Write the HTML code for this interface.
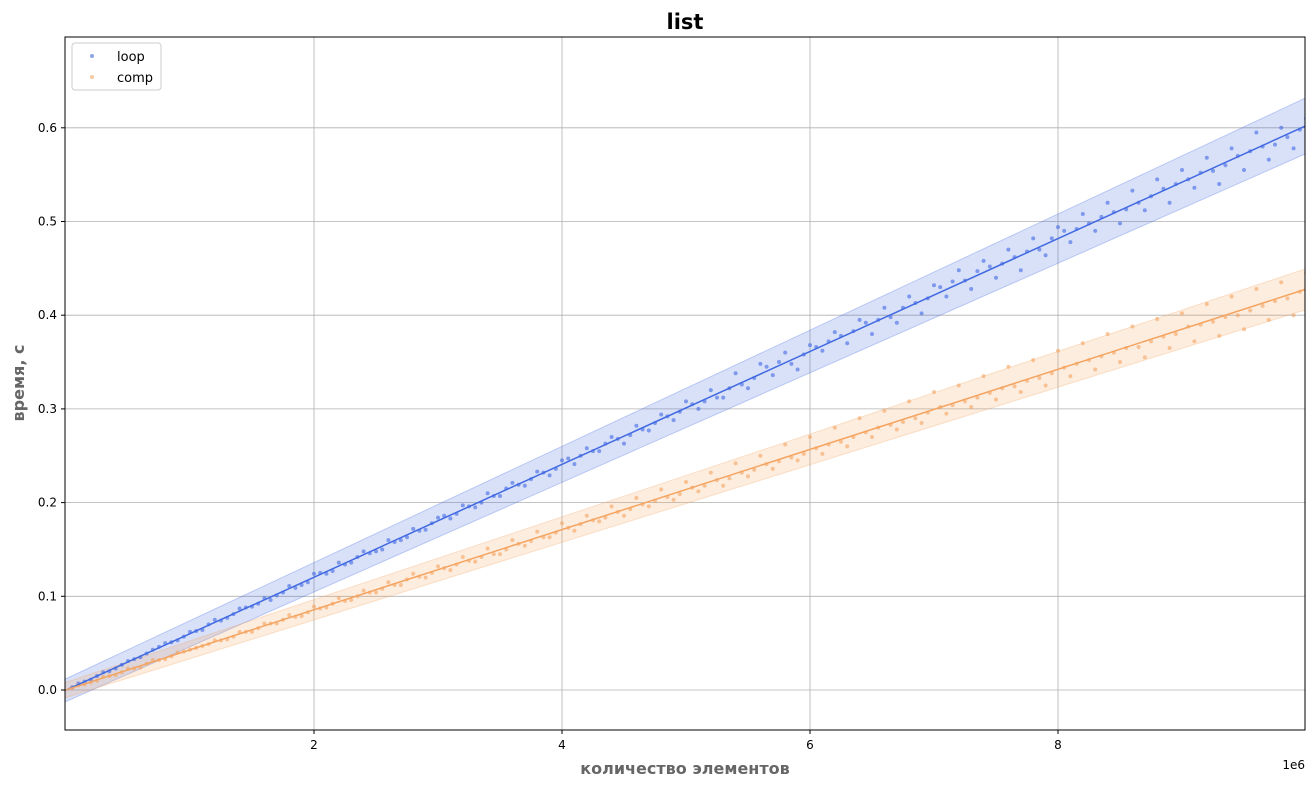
<!DOCTYPE html>
<html><head><meta charset="utf-8"><style>
body{margin:0;background:#fff;font-family:"Liberation Sans","DejaVu Sans",sans-serif;}
svg text{font-family:"DejaVu Sans","Liberation Sans",sans-serif;}
</style></head><body>
<svg id="chart" width="1315" height="787" xmlns="http://www.w3.org/2000/svg">
<defs><clipPath id="plotclip"><rect x="65" y="37" width="1240" height="693"/></clipPath></defs>
<rect width="1315" height="787" fill="#fff"/>
<g id="grid"></g><g id="plotarea" clip-path="url(#plotclip)"><g id="bands"></g><g id="points"></g><g id="lines"></g></g><g id="axes"></g>
<text x="685" y="29" text-anchor="middle" font-size="21" font-weight="bold">list</text>
<text x="685" y="774" text-anchor="middle" font-size="16" font-weight="bold" fill="#666">количество элементов</text>
<text transform="translate(24,383) rotate(-90)" text-anchor="middle" font-size="16" font-weight="bold" fill="#666">время, с</text>
<text x="1305" y="769" text-anchor="end" font-size="12">1e6</text>
<g>
<rect x="72" y="43" width="89" height="47" rx="3" fill="#fff" fill-opacity="0.8" stroke="#ccc"/>
<circle cx="92" cy="56" r="2" fill="#4169e1" opacity="0.6"/>
<text x="117" y="61" font-size="13">loop</text>
<circle cx="92" cy="77" r="2" fill="#f4a460" opacity="0.6"/>
<text x="117" y="82" font-size="13">comp</text>
</g>
</svg>
<script>
const xTicks=[2,4,6,8];
const yTicks=[0.0,0.1,0.2,0.3,0.4,0.5,0.6];
const yTickLabels=["0.0","0.1","0.2","0.3","0.4","0.5","0.6"];
const loopValues=[0.003,0.009,0.015,0.020,0.027,0.033,0.039,0.046,0.051,0.057,
0.063,0.070,0.074,0.081,0.088,0.092,0.096,0.104,0.109,0.115,
0.125,0.127,0.134,0.142,0.146,0.150,0.158,0.163,0.170,0.178,
0.186,0.188,0.196,0.200,0.207,0.215,0.219,0.225,0.232,0.236,
0.247,0.250,0.255,0.263,0.268,0.272,0.278,0.285,0.292,0.297,
0.305,0.308,0.312,0.322,0.326,0.333,0.345,0.350,0.348,0.358,
0.366,0.372,0.378,0.383,0.392,0.395,0.398,0.408,0.413,0.418,
0.430,0.436,0.437,0.447,0.452,0.455,0.462,0.468,0.470,0.482,
0.490,0.492,0.498,0.505,0.510,0.513,0.520,0.527,0.535,0.540,
0.545,0.552,0.554,0.560,0.570,0.575,0.580,0.582,0.590,0.598];
const loopValues2=[0.007,0.011,0.019,0.023,0.031,0.035,0.043,0.050,0.053,0.062,
0.064,0.075,0.077,0.087,0.089,0.098,0.101,0.111,0.112,0.124,
0.124,0.136,0.136,0.148,0.148,0.160,0.160,0.172,0.171,0.184,
0.183,0.197,0.195,0.210,0.207,0.221,0.218,0.233,0.229,0.245,
0.241,0.258,0.255,0.270,0.263,0.282,0.277,0.294,0.288,0.308,
0.300,0.320,0.312,0.338,0.322,0.348,0.336,0.360,0.342,0.368,
0.362,0.382,0.370,0.395,0.380,0.408,0.392,0.420,0.402,0.432,
0.420,0.448,0.428,0.458,0.440,0.470,0.448,0.482,0.464,0.494,
0.478,0.508,0.490,0.520,0.498,0.533,0.512,0.545,0.520,0.555,
0.536,0.568,0.540,0.578,0.555,0.595,0.566,0.600,0.578,0.610];
const compValues=[0.002,0.006,0.010,0.015,0.019,0.023,0.028,0.032,0.036,0.041,
0.045,0.049,0.053,0.057,0.062,0.066,0.071,0.075,0.078,0.083,
0.087,0.092,0.095,0.100,0.104,0.108,0.112,0.118,0.121,0.125,
0.130,0.134,0.138,0.142,0.145,0.150,0.156,0.159,0.163,0.168,
0.173,0.177,0.181,0.184,0.190,0.193,0.198,0.202,0.206,0.209,
0.216,0.218,0.224,0.226,0.232,0.235,0.241,0.244,0.248,0.252,
0.258,0.262,0.265,0.270,0.275,0.280,0.283,0.286,0.290,0.296,
0.302,0.304,0.308,0.312,0.317,0.322,0.324,0.330,0.333,0.338,
0.344,0.348,0.352,0.356,0.360,0.365,0.366,0.372,0.377,0.380,
0.388,0.390,0.393,0.398,0.400,0.405,0.410,0.415,0.418,0.425];
const compValues2=[0.005,0.008,0.014,0.016,0.023,0.024,0.032,0.033,0.040,0.043,
0.047,0.053,0.054,0.062,0.062,0.071,0.071,0.080,0.079,0.089,
0.088,0.098,0.096,0.106,0.104,0.115,0.112,0.124,0.120,0.132,
0.128,0.142,0.137,0.151,0.145,0.160,0.154,0.169,0.163,0.178,
0.170,0.186,0.180,0.196,0.186,0.205,0.196,0.214,0.203,0.222,
0.212,0.232,0.218,0.242,0.228,0.250,0.236,0.262,0.245,0.270,
0.252,0.280,0.260,0.290,0.270,0.298,0.278,0.308,0.285,0.318,
0.295,0.325,0.302,0.335,0.310,0.345,0.318,0.352,0.325,0.362,
0.335,0.370,0.342,0.380,0.350,0.388,0.355,0.396,0.365,0.402,
0.372,0.412,0.378,0.420,0.385,0.428,0.395,0.435,0.400,0.445];
const xValues=loopValues.map((_,i)=>0.05+0.1*i);
const xValues2=loopValues2.map((_,i)=>0.1+0.1*i);
const NS="http://www.w3.org/2000/svg";
const L=65,R=1305,T=37,B=730;
const xs=v=>66+v*124;
const ys=v=>690-v*937;
function mk(tag,parent,attrs){const e=document.createElementNS(NS,tag);for(const k in attrs)e.setAttribute(k,attrs[k]);document.getElementById(parent).appendChild(e);return e;}
xTicks.forEach(t=>{
 const g=mk('line','grid',{x1:xs(t),x2:xs(t),y1:T,y2:B,stroke:'#b0b0b0','stroke-width':0.8});
 
 
 const k=mk('line','axes',{x1:xs(t),x2:xs(t),y1:B,y2:B+4,stroke:'#000'});
 
 
 const tx=mk('text','axes',{x:xs(t),y:B+19,'text-anchor':'middle','font-size':12});
 tx.textContent=t;
 
 
});
yTicks.forEach((t,i)=>{
 const g=mk('line','grid',{x1:L,x2:R,y1:ys(t),y2:ys(t),stroke:'#b0b0b0','stroke-width':0.8});
 
 
 const k=mk('line','axes',{x1:L-4,x2:L,y1:ys(t),y2:ys(t),stroke:'#000'});
 
 
 const tx=mk('text','axes',{x:L-8,y:ys(t)+4,'text-anchor':'end','font-size':12});
 tx.textContent=yTickLabels[i];
 
 
});
const frame=mk('rect','axes',{x:L,y:T,width:R-L,height:B-T,fill:'none',stroke:'#000','stroke-width':1});


function fit(xv,yv){const n=xv.length;let sx=0,sy=0,sxx=0,sxy=0;for(let i=0;i<n;i++){sx+=xv[i];sy+=yv[i];sxx+=xv[i]*xv[i];sxy+=xv[i]*yv[i];}
 const b=(n*sxy-sx*sy)/(n*sxx-sx*sx);return {a:(sy-b*sx)/n,b};}
function series(vals,vals2,color,name,w0,w1){
 const f=fit(xValues.concat(xValues2),vals.concat(vals2));const x0=-0.1,x1=10.1;
 const pts=[[x0,f.a+f.b*x0+w0],[x1,f.a+f.b*x1+w1],[x1,f.a+f.b*x1-w1],[x0,f.a+f.b*x0-w0]];
 const band=mk('polygon','bands',{points:pts.map(p=>xs(p[0])+','+ys(p[1])).join(' '),fill:color,'fill-opacity':0.2,stroke:color,'stroke-opacity':0.3});
 
 
 const draw=(xv,yv)=>yv.forEach((v,i)=>{
  const c=mk('circle','points',{cx:xs(xv[i]),cy:ys(v),r:2,fill:color,'fill-opacity':0.6});
  
  
 });
 draw(xValues,vals);draw(xValues2,vals2);
 const ln=mk('line','lines',{x1:xs(x0),y1:ys(f.a+f.b*x0),x2:xs(x1),y2:ys(f.a+f.b*x1),stroke:color,'stroke-width':1.5});
 
 
}
series(loopValues,loopValues2,'#4169e1','loop',0.012,0.03);
series(compValues,compValues2,'#f4a460','comp',0.008,0.022);
</script>
</body></html>
